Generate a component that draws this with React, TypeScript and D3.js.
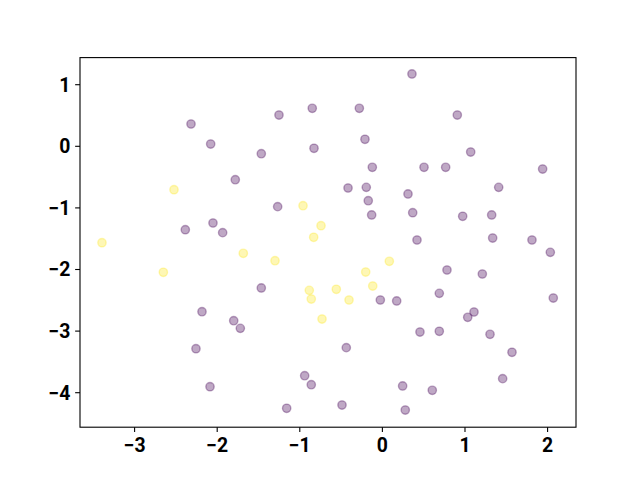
import React from "react";
import * as d3 from "d3";

const purpleX = [-2.317,-2.079,-1.252,-0.849,-0.828,-1.466,-1.781,-1.268,-2.386,-2.051,-1.934,
  -1.466,-2.184,-1.80,-1.720,-2.257,-2.087,-0.941,-0.861,-1.159,
  0.358,-0.279,0.907,-0.211,1.069,-0.122,0.504,0.766,1.940,-0.416,-0.195,1.408,0.310,-0.171,-0.130,0.367,0.972,1.323,0.419,1.335,1.811,
  2.033,0.782,1.210,-0.025,0.173,0.689,2.069,1.109,1.033,0.455,0.689,1.303,1.569,-0.437,1.456,0.245,0.604,-0.489,0.277];
const purpleY = [0.362,0.037,0.508,0.617,-0.032,-0.12,-0.542,-0.98,-1.354,-1.245,-1.402,
  -2.30,-2.685,-2.831,-2.955,-3.286,-3.903,-3.724,-3.870,-4.253,
  1.174,0.617,0.508,0.114,-0.093,-0.341,-0.341,-0.341,-0.369,-0.677,-0.666,-0.666,-0.774,-0.883,-1.115,-1.078,-1.136,-1.115,-1.521,-1.489,-1.521,
  -1.721,-2.008,-2.073,-2.495,-2.511,-2.387,-2.463,-2.690,-2.776,-3.015,-3.003,-3.052,-3.344,-3.269,-3.772,-3.891,-3.961,-4.2,-4.281];
const yellowX = [-3.395,-2.523,-0.961,-0.743,-0.832,-2.652,-1.684,-1.300,-0.885,-0.861,-0.731,0.084,-0.202,-0.117,-0.558,-0.404];
const yellowY = [-1.565,-0.705,-0.964,-1.289,-1.477,-2.045,-1.737,-1.857,-2.338,-2.479,-2.804,-1.867,-2.041,-2.268,-2.321,-2.495];
const xTicks = [-3, -2, -1, 0, 1, 2];
const yTicks = [1, 0, -1, -2, -3, -4];

const W = 640, H = 480;
const L = 80, R = 576, T = 57.6, B = 427.2;

export default function App() {
  const x = d3.scaleLinear().domain([-3.661, 2.344]).range([L, R]);
  const y = d3.scaleLinear().domain([-4.56, 1.44]).range([B, T]);
  const fmt = (v: number) => (v < 0 ? "\u2212" + Math.abs(v) : String(v));
  const font = "Roboto, 'DejaVu Sans', sans-serif";
  const pts = [
    ...purpleX.map((v, i) => ({ x: v, y: purpleY[i], c: "#440154" })),
    ...yellowX.map((v, i) => ({ x: v, y: yellowY[i], c: "#fde725" })),
  ];
  return (
    <svg width={W} height={H} style={{ position: "absolute", left: 0, top: 0, background: "#fff" }}>
      <rect x={0} y={0} width={W} height={H} fill="#fff" />
      {pts.map((p, i) => (
        <circle key={i} cx={x(p.x)} cy={y(p.y)} r={4.17} fill={p.c} fillOpacity={0.34}
          stroke={p.c} strokeOpacity={0.34} strokeWidth={1.39} />
      ))}
      <rect x={L} y={T} width={R - L} height={B - T} fill="none" stroke="#000" strokeWidth={1.1} />
      {xTicks.map((t) => (
        <g key={"x" + t}>
          <line x1={x(t)} x2={x(t)} y1={B} y2={B + 4.86} stroke="#000" strokeWidth={1.1} />
          <text x={x(t)} y={B + 4.86 + 4.86} dy="0.76em" textAnchor="middle" fontFamily={font}
            fontWeight="bold" fontSize={19.4} fill="#000">{fmt(t)}</text>
        </g>
      ))}
      {yTicks.map((t) => (
        <g key={"y" + t}>
          <line x1={L - 4.86} x2={L} y1={y(t)} y2={y(t)} stroke="#000" strokeWidth={1.1} />
          <text x={L - 4.86 - 4.86} y={y(t)} dy="0.36em" textAnchor="end" fontFamily={font}
            fontWeight="bold" fontSize={19.4} fill="#000">{fmt(t)}</text>
        </g>
      ))}
    </svg>
  );
}
